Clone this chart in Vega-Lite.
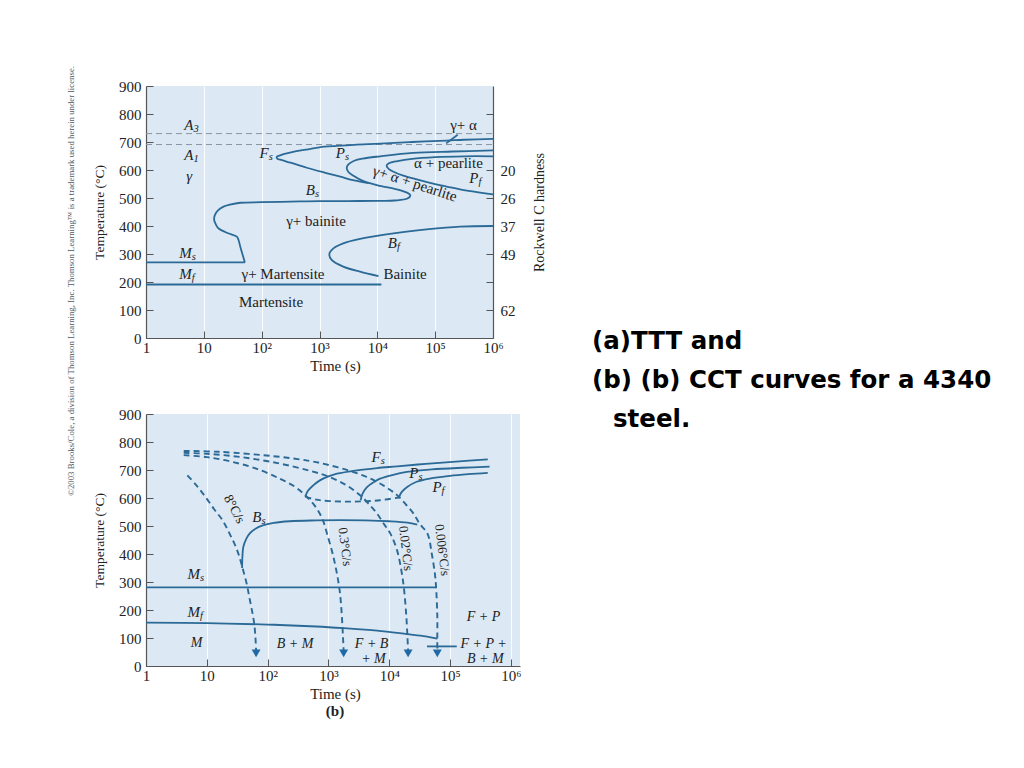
{
  "$schema": "https://vega.github.io/schema/vega-lite/v6.json",
  "autosize": "none",
  "padding": {"left": 146, "top": 86, "right": 878, "bottom": 682},
  "background": "white",
  "columns": 2,
  "bounds": "flush",
  "spacing": {"row": 76, "column": 72},
  "config": {
    "view": {"stroke": null},
    "axis": {"labelFont": "Liberation Serif", "titleFont": "Liberation Serif", "labelFontSize": 15, "titleFontSize": 15, "titleFontWeight": "normal", "labelColor": "#222222", "titleColor": "#222222", "domainColor": "#555555", "tickColor": "#555555", "domainWidth": 1.2, "tickWidth": 1, "tickSize": -7, "grid": false},
    "text": {"font": "Liberation Serif", "fontSize": 15, "color": "#222222"},
    "title": {"font": "Liberation Serif", "fontSize": 15, "fontWeight": "bold", "color": "#222222"}
  },
  "datasets": {
    "aDash": [
      {"c": "A3", "t": 1, "temp": 730}, {"c": "A3", "t": 1000000, "temp": 730},
      {"c": "A1", "t": 1, "temp": 691}, {"c": "A1", "t": 1000000, "temp": 691}
    ],
    "aSolid": [
      {"c": "Fs", "t": 1000000, "temp": 711}, {"c": "Fs", "t": 316228, "temp": 708}, {"c": "Fs", "t": 158489, "temp": 705}, {"c": "Fs", "t": 39811, "temp": 700}, {"c": "Fs", "t": 11220, "temp": 694}, {"c": "Fs", "t": 3981, "temp": 690}, {"c": "Fs", "t": 1995, "temp": 686}, {"c": "Fs", "t": 1000, "temp": 681}, {"c": "Fs", "t": 631, "temp": 674}, {"c": "Fs", "t": 398, "temp": 667}, {"c": "Fs", "t": 282, "temp": 660}, {"c": "Fs", "t": 214, "temp": 653}, {"c": "Fs", "t": 182, "temp": 647}, {"c": "Fs", "t": 186, "temp": 641}, {"c": "Fs", "t": 224, "temp": 635}, {"c": "Fs", "t": 316, "temp": 626}, {"c": "Fs", "t": 603, "temp": 608}, {"c": "Fs", "t": 1259, "temp": 590}, {"c": "Fs", "t": 2291, "temp": 576}, {"c": "Fs", "t": 3981, "temp": 563}, {"c": "Fs", "t": 7079, "temp": 553},
      {"c": "Ps", "t": 1000000, "temp": 670}, {"c": "Ps", "t": 199526, "temp": 666}, {"c": "Ps", "t": 41687, "temp": 661}, {"c": "Ps", "t": 11220, "temp": 649}, {"c": "Ps", "t": 5623, "temp": 641}, {"c": "Ps", "t": 3981, "temp": 633}, {"c": "Ps", "t": 3162, "temp": 620}, {"c": "Ps", "t": 2951, "temp": 607}, {"c": "Ps", "t": 3162, "temp": 593}, {"c": "Ps", "t": 3802, "temp": 580}, {"c": "Ps", "t": 5754, "temp": 560}, {"c": "Ps", "t": 11220, "temp": 543}, {"c": "Ps", "t": 19953, "temp": 533}, {"c": "Ps", "t": 30200, "temp": 522}, {"c": "Ps", "t": 37154, "temp": 510}, {"c": "Ps", "t": 33113, "temp": 498}, {"c": "Ps", "t": 19953, "temp": 491}, {"c": "Ps", "t": 10000, "temp": 490}, {"c": "Ps", "t": 3162, "temp": 489}, {"c": "Ps", "t": 1000, "temp": 489}, {"c": "Ps", "t": 316, "temp": 487}, {"c": "Ps", "t": 100, "temp": 485}, {"c": "Ps", "t": 42.7, "temp": 483}, {"c": "Ps", "t": 28.2, "temp": 476}, {"c": "Ps", "t": 21.9, "temp": 469}, {"c": "Ps", "t": 17.4, "temp": 455}, {"c": "Ps", "t": 15.5, "temp": 439}, {"c": "Ps", "t": 15.1, "temp": 421}, {"c": "Ps", "t": 16.2, "temp": 405}, {"c": "Ps", "t": 17.8, "temp": 392}, {"c": "Ps", "t": 26.3, "temp": 374}, {"c": "Ps", "t": 37.2, "temp": 362}, {"c": "Ps", "t": 39.8, "temp": 350}, {"c": "Ps", "t": 42.7, "temp": 326}, {"c": "Ps", "t": 51.3, "temp": 270},
      {"c": "Ms", "t": 1, "temp": 270}, {"c": "Ms", "t": 51.3, "temp": 270},
      {"c": "Mf", "t": 1, "temp": 191}, {"c": "Mf", "t": 11749, "temp": 191},
      {"c": "Pf", "t": 1000000, "temp": 649}, {"c": "Pf", "t": 316228, "temp": 649}, {"c": "Pf", "t": 100000, "temp": 646}, {"c": "Pf", "t": 39811, "temp": 640}, {"c": "Pf", "t": 22387, "temp": 632}, {"c": "Pf", "t": 15849, "temp": 624}, {"c": "Pf", "t": 14454, "temp": 615}, {"c": "Pf", "t": 15849, "temp": 603}, {"c": "Pf", "t": 19953, "temp": 592}, {"c": "Pf", "t": 28184, "temp": 580}, {"c": "Pf", "t": 44668, "temp": 568}, {"c": "Pf", "t": 81283, "temp": 554}, {"c": "Pf", "t": 158489, "temp": 541}, {"c": "Pf", "t": 269153, "temp": 531}, {"c": "Pf", "t": 1000000, "temp": 513},
      {"c": "Bf", "t": 1000000, "temp": 400}, {"c": "Bf", "t": 269153, "temp": 398}, {"c": "Bf", "t": 70795, "temp": 388}, {"c": "Bf", "t": 19055, "temp": 374}, {"c": "Bf", "t": 5012, "temp": 354}, {"c": "Bf", "t": 2570, "temp": 338}, {"c": "Bf", "t": 1738, "temp": 320}, {"c": "Bf", "t": 1479, "temp": 300}, {"c": "Bf", "t": 1622, "temp": 279}, {"c": "Bf", "t": 2570, "temp": 255}, {"c": "Bf", "t": 5012, "temp": 237}, {"c": "Bf", "t": 10471, "temp": 221},
      {"c": "lead", "t": 154882, "temp": 695}, {"c": "lead", "t": 245471, "temp": 726}
    ],
    "aText": [
      {"t": 871, "temp": 419, "label": "γ+ bainite"},
      {"t": 234, "temp": 228, "label": "γ+ Martensite"},
      {"t": 145, "temp": 127, "label": "Martensite"},
      {"t": 169824, "temp": 624, "label": "α + pearlite"},
      {"t": 30200, "temp": 228, "label": "Bainite"},
      {"t": 309030, "temp": 761, "label": "γ+ α"}
    ],
    "aRot": [
      {"t": 44668, "temp": 552, "label": "γ+ α + pearlite"}
    ],
    "aSub": [
      {"t": 6.61, "temp": 761, "m": "A", "s": "3"},
      {"t": 6.61, "temp": 654, "m": "A", "s": "1"},
      {"t": 6.31, "temp": 579, "m": "γ", "s": ""},
      {"t": 6.17, "temp": 302, "m": "M", "s": "s"},
      {"t": 6.17, "temp": 228, "m": "M", "s": "f"},
      {"t": 132, "temp": 662, "m": "F", "s": "s"},
      {"t": 2754, "temp": 660, "m": "P", "s": "s"},
      {"t": 832, "temp": 529, "m": "B", "s": "s"},
      {"t": 562341, "temp": 570, "m": "P", "s": "f"},
      {"t": 21878, "temp": 338, "m": "B", "s": "f"}
    ],
    "copy": [
      {"t": 0.0505, "temp": 204, "label": "©2003 Brooks/Cole, a division of Thomson Learning, Inc.  Thomson Learning™ is a trademark used herein under license."}
    ],
    "slide": [
      {"line": 1, "label": "(a)TTT and"},
      {"line": 2, "label": "(b) (b) CCT curves for a 4340"},
      {"line": 3, "label": "steel."}
    ],
    "bDash": [
      {"c": "r8", "t": 4.79, "temp": 681}, {"c": "r8", "t": 6.76, "temp": 645}, {"c": "r8", "t": 9.55, "temp": 603}, {"c": "r8", "t": 13.2, "temp": 560}, {"c": "r8", "t": 18.2, "temp": 520}, {"c": "r8", "t": 24.0, "temp": 470}, {"c": "r8", "t": 30.2, "temp": 424}, {"c": "r8", "t": 35.5, "temp": 380}, {"c": "r8", "t": 39.8, "temp": 340}, {"c": "r8", "t": 45.7, "temp": 290}, {"c": "r8", "t": 50.1, "temp": 245}, {"c": "r8", "t": 56.2, "temp": 190}, {"c": "r8", "t": 60.3, "temp": 150}, {"c": "r8", "t": 63.1, "temp": 100}, {"c": "r8", "t": 64.6, "temp": 55},
      {"c": "r03", "t": 4.17, "temp": 753}, {"c": "r03", "t": 10, "temp": 746}, {"c": "r03", "t": 25.1, "temp": 730}, {"c": "r03", "t": 63.1, "temp": 706}, {"c": "r03", "t": 158, "temp": 669}, {"c": "r03", "t": 282, "temp": 640}, {"c": "r03", "t": 437, "temp": 605}, {"c": "r03", "t": 631, "temp": 565}, {"c": "r03", "t": 813, "temp": 520}, {"c": "r03", "t": 955, "temp": 470}, {"c": "r03", "t": 1175, "temp": 400}, {"c": "r03", "t": 1380, "temp": 330}, {"c": "r03", "t": 1549, "temp": 260}, {"c": "r03", "t": 1660, "temp": 180}, {"c": "r03", "t": 1738, "temp": 100}, {"c": "r03", "t": 1778, "temp": 55},
      {"c": "r002", "t": 4.17, "temp": 761}, {"c": "r002", "t": 10, "temp": 758}, {"c": "r002", "t": 39.8, "temp": 745}, {"c": "r002", "t": 158, "temp": 723}, {"c": "r002", "t": 501, "temp": 697}, {"c": "r002", "t": 1047, "temp": 675}, {"c": "r002", "t": 1995, "temp": 645}, {"c": "r002", "t": 3311, "temp": 610}, {"c": "r002", "t": 5012, "temp": 570}, {"c": "r002", "t": 6310, "temp": 544}, {"c": "r002", "t": 8128, "temp": 508}, {"c": "r002", "t": 10471, "temp": 472}, {"c": "r002", "t": 13490, "temp": 412}, {"c": "r002", "t": 15849, "temp": 340}, {"c": "r002", "t": 17378, "temp": 280}, {"c": "r002", "t": 19055, "temp": 180}, {"c": "r002", "t": 19953, "temp": 100}, {"c": "r002", "t": 20417, "temp": 55},
      {"c": "r0006", "t": 4.17, "temp": 768}, {"c": "r0006", "t": 15.8, "temp": 765}, {"c": "r0006", "t": 158, "temp": 747}, {"c": "r0006", "t": 501, "temp": 732}, {"c": "r0006", "t": 1047, "temp": 717}, {"c": "r0006", "t": 2239, "temp": 697}, {"c": "r0006", "t": 4266, "temp": 675}, {"c": "r0006", "t": 7943, "temp": 645}, {"c": "r0006", "t": 13490, "temp": 610}, {"c": "r0006", "t": 19055, "temp": 575}, {"c": "r0006", "t": 25119, "temp": 544}, {"c": "r0006", "t": 31623, "temp": 508}, {"c": "r0006", "t": 42658, "temp": 472}, {"c": "r0006", "t": 50119, "temp": 400}, {"c": "r0006", "t": 56234, "temp": 330}, {"c": "r0006", "t": 58884, "temp": 281}, {"c": "r0006", "t": 61660, "temp": 180}, {"c": "r0006", "t": 61660, "temp": 100}, {"c": "r0006", "t": 61660, "temp": 55},
      {"c": "fd", "t": 417, "temp": 604}, {"c": "fd", "t": 631, "temp": 594}, {"c": "fd", "t": 1047, "temp": 589}, {"c": "fd", "t": 1995, "temp": 587}, {"c": "fd", "t": 3548, "temp": 588}, {"c": "fd", "t": 7079, "temp": 592}, {"c": "fd", "t": 14454, "temp": 602}
    ],
    "bSolid": [
      {"c": "Fs", "t": 417, "temp": 604}, {"c": "Fs", "t": 457, "temp": 625}, {"c": "Fs", "t": 562, "temp": 645}, {"c": "Fs", "t": 724, "temp": 663}, {"c": "Fs", "t": 1000, "temp": 677}, {"c": "Fs", "t": 1380, "temp": 687}, {"c": "Fs", "t": 2951, "temp": 699}, {"c": "Fs", "t": 6310, "temp": 707}, {"c": "Fs", "t": 13490, "temp": 713}, {"c": "Fs", "t": 39811, "temp": 722}, {"c": "Fs", "t": 125893, "temp": 730}, {"c": "Fs", "t": 416869, "temp": 738},
      {"c": "Ps", "t": 3388, "temp": 592}, {"c": "Ps", "t": 3631, "temp": 615}, {"c": "Ps", "t": 4266, "temp": 638}, {"c": "Ps", "t": 5623, "temp": 657}, {"c": "Ps", "t": 7079, "temp": 669}, {"c": "Ps", "t": 11220, "temp": 682}, {"c": "Ps", "t": 19498, "temp": 693}, {"c": "Ps", "t": 50119, "temp": 702}, {"c": "Ps", "t": 158489, "temp": 708}, {"c": "Ps", "t": 446684, "temp": 712},
      {"c": "Pf", "t": 14454, "temp": 602}, {"c": "Pf", "t": 15849, "temp": 620}, {"c": "Pf", "t": 19953, "temp": 640}, {"c": "Pf", "t": 28184, "temp": 658}, {"c": "Pf", "t": 47863, "temp": 670}, {"c": "Pf", "t": 100000, "temp": 679}, {"c": "Pf", "t": 199526, "temp": 685}, {"c": "Pf", "t": 416869, "temp": 690},
      {"c": "Bs", "t": 38.0, "temp": 350}, {"c": "Bs", "t": 38.5, "temp": 390}, {"c": "Bs", "t": 39.8, "temp": 425}, {"c": "Bs", "t": 44.7, "temp": 455}, {"c": "Bs", "t": 50.1, "temp": 472}, {"c": "Bs", "t": 63.1, "temp": 490}, {"c": "Bs", "t": 83.2, "temp": 502}, {"c": "Bs", "t": 126, "temp": 511}, {"c": "Bs", "t": 229, "temp": 517}, {"c": "Bs", "t": 631, "temp": 520}, {"c": "Bs", "t": 1549, "temp": 521}, {"c": "Bs", "t": 3981, "temp": 520}, {"c": "Bs", "t": 10000, "temp": 517}, {"c": "Bs", "t": 19953, "temp": 512}, {"c": "Bs", "t": 28840, "temp": 505},
      {"c": "Ms", "t": 1, "temp": 281}, {"c": "Ms", "t": 58884, "temp": 281},
      {"c": "Mf", "t": 1, "temp": 155}, {"c": "Mf", "t": 10, "temp": 153}, {"c": "Mf", "t": 100, "temp": 148}, {"c": "Mf", "t": 631, "temp": 141}, {"c": "Mf", "t": 1778, "temp": 135}, {"c": "Mf", "t": 6310, "temp": 126}, {"c": "Mf", "t": 19498, "temp": 114}, {"c": "Mf", "t": 39811, "temp": 106}, {"c": "Mf", "t": 61660, "temp": 98},
      {"c": "lead", "t": 41687, "temp": 70}, {"c": "lead", "t": 128825, "temp": 70}
    ],
    "bArrow": [
      {"t": 64.6, "temp": 45}, {"t": 1778, "temp": 45}, {"t": 20417, "temp": 45}, {"t": 61660, "temp": 45}
    ],
    "bText": [
      {"t": 6.76, "temp": 81, "label": "M"},
      {"t": 282, "temp": 77, "label": "B + M"},
      {"t": 5129, "temp": 80, "label": "F + B"},
      {"t": 5495, "temp": 26, "label": "+ M"},
      {"t": 354813, "temp": 176, "label": "F + P"},
      {"t": 354813, "temp": 80, "label": "F + P +"},
      {"t": 380189, "temp": 26, "label": "B + M"}
    ],
    "bSub": [
      {"t": 7244, "temp": 745, "m": "F", "s": "s"},
      {"t": 30200, "temp": 690, "m": "P", "s": "s"},
      {"t": 72444, "temp": 638, "m": "P", "s": "f"},
      {"t": 79.4, "temp": 533, "m": "B", "s": "s"},
      {"t": 7.76, "temp": 329, "m": "M", "s": "s"},
      {"t": 7.76, "temp": 194, "m": "M", "s": "f"}
    ],
    "bRot": [
      {"t": 28.2, "temp": 560, "label": "8°C/s"},
      {"t": 1862, "temp": 426, "label": "0.3°C/s"},
      {"t": 18621, "temp": 420, "label": "0.02°C/s"},
      {"t": 74131, "temp": 414, "label": "0.006°C/s"}
    ]
  },
  "concat": [
    {
      "width": 347,
      "height": 252,
      "view": {"fill": "#dce8f4", "stroke": null},
      "title": {"text": "(a)", "orient": "bottom", "dx": 15, "offset": 3},
      "encoding": {
        "x": {"field": "t", "type": "quantitative", "scale": {"type": "log", "domain": [1, 1000000]},
          "axis": {"values": [1, 10, 100, 1000, 10000, 100000, 1000000],
            "labelExpr": "datum.value == 1 ? '1' : datum.value == 10 ? '10' : datum.value == 100 ? '10²' : datum.value == 1000 ? '10³' : datum.value == 10000 ? '10⁴' : datum.value == 100000 ? '10⁵' : '10⁶'",
            "title": "Time (s)", "titleX": 189, "titlePadding": 3, "labelPadding": 9, "labelFlush": false, "labelOverlap": false,
            "grid": true, "gridColor": "#ffffff", "gridOpacity": 0.85, "gridWidth": 1}},
        "y": {"field": "temp", "type": "quantitative", "scale": {"domain": [0, 900]}, "axis": null}
      },
      "resolve": {"axis": {"y": "independent"}},
      "layer": [
        {"data": {"name": "aDash"},
          "mark": {"type": "line", "color": "#8a96a3", "strokeWidth": 1, "strokeDash": [6, 4]},
          "encoding": {"detail": {"field": "c"},
            "y": {"field": "temp", "type": "quantitative", "scale": {"domain": [0, 900]},
              "axis": {"orient": "right", "values": [100, 200, 300, 400, 500, 600, 800],
                "labelExpr": "datum.value == 600 ? '20' : datum.value == 500 ? '26' : datum.value == 400 ? '37' : datum.value == 300 ? '49' : datum.value == 100 ? '62' : ''",
                "labelPadding": 14, "title": "Rockwell C hardness", "titleAngle": 270, "titleBaseline": "top", "titleFontSize": 14, "titlePadding": 17}}}},
        {"data": {"name": "aSolid"},
          "mark": {"type": "line", "color": "#2b6a96", "strokeWidth": 1.8, "interpolate": "catmull-rom"},
          "encoding": {"detail": {"field": "c"}, "order": {"value": null},
            "y": {"field": "temp", "type": "quantitative", "scale": {"domain": [0, 900]},
              "axis": {"orient": "left", "values": [0, 100, 200, 300, 400, 500, 600, 700, 800, 900], "title": "Temperature (°C)", "titleFontSize": 13.5, "labelPadding": 12, "titlePadding": 12}}}},
        {"data": {"name": "aText"}, "mark": {"type": "text"}, "encoding": {"text": {"field": "label"}}},
        {"data": {"name": "aRot"}, "mark": {"type": "text", "angle": 18}, "encoding": {"text": {"field": "label"}}},
        {"data": {"name": "aSub"}, "mark": {"type": "text", "align": "right", "fontStyle": "italic"}, "encoding": {"text": {"field": "m"}}},
        {"data": {"name": "aSub"}, "mark": {"type": "text", "align": "left", "dy": 4, "fontSize": 10.5, "fontStyle": "italic"}, "encoding": {"text": {"field": "s"}}},
        {"data": {"name": "copy"}, "mark": {"type": "text", "angle": 270, "fontSize": 8.8, "color": "#555555"}, "encoding": {"text": {"field": "label"}}}
      ]
    },
    {
      "width": 300,
      "height": 252,
      "data": {"name": "slide"},
      "encoding": {
        "x": {"value": 0},
        "y": {"field": "line", "type": "quantitative", "scale": {"domain": [1, 3], "range": [263, 341]}, "axis": null},
        "text": {"field": "label"}
      },
      "layer": [
        {"transform": [{"filter": "datum.line < 3"}],
          "mark": {"type": "text", "align": "left", "baseline": "alphabetic", "font": "DejaVu Sans", "fontWeight": "bold", "fontSize": 24.5, "color": "#000000"}},
        {"transform": [{"filter": "datum.line == 3"}],
          "mark": {"type": "text", "align": "left", "baseline": "alphabetic", "dx": 21, "font": "DejaVu Sans", "fontWeight": "bold", "fontSize": 24.5, "color": "#000000"}}
      ]
    },
    {
      "width": 374,
      "height": 252,
      "view": {"fill": "#dce8f4", "stroke": null},
      "title": {"text": "(b)", "orient": "bottom", "dx": 2, "offset": 3},
      "encoding": {
        "x": {"field": "t", "type": "quantitative", "scale": {"type": "log", "domain": [1, 1412538]},
          "axis": {"values": [1, 10, 100, 1000, 10000, 100000, 1000000],
            "labelExpr": "datum.value == 1 ? '1' : datum.value == 10 ? '10' : datum.value == 100 ? '10²' : datum.value == 1000 ? '10³' : datum.value == 10000 ? '10⁴' : datum.value == 100000 ? '10⁵' : '10⁶'",
            "title": "Time (s)", "titleX": 189, "titlePadding": 3, "labelPadding": 9, "labelFlush": false, "labelOverlap": false,
            "grid": true, "gridColor": "#ffffff", "gridOpacity": 0.85, "gridWidth": 1}},
        "y": {"field": "temp", "type": "quantitative", "scale": {"domain": [0, 900]},
          "axis": {"orient": "left", "values": [0, 100, 200, 300, 400, 500, 600, 700, 800, 900], "title": "Temperature (°C)", "titleFontSize": 13.5, "labelPadding": 12, "titlePadding": 12}}
      },
      "layer": [
        {"data": {"name": "bDash"},
          "mark": {"type": "line", "color": "#2b6a96", "strokeWidth": 1.9, "strokeDash": [6, 4], "interpolate": "catmull-rom"},
          "encoding": {"detail": {"field": "c"}, "order": {"value": null}}},
        {"data": {"name": "bSolid"},
          "mark": {"type": "line", "color": "#2b6a96", "strokeWidth": 1.8, "interpolate": "catmull-rom"},
          "encoding": {"detail": {"field": "c"}, "order": {"value": null}}},
        {"data": {"name": "bArrow"},
          "mark": {"type": "point", "shape": "triangle-down", "filled": true, "size": 80, "color": "#1f6aa6", "opacity": 1},
          "encoding": {}},
        {"data": {"name": "bText"}, "mark": {"type": "text", "fontStyle": "italic", "fontSize": 14}, "encoding": {"text": {"field": "label"}}},
        {"data": {"name": "bSub"}, "mark": {"type": "text", "align": "right", "fontStyle": "italic"}, "encoding": {"text": {"field": "m"}}},
        {"data": {"name": "bSub"}, "mark": {"type": "text", "align": "left", "dy": 4, "fontSize": 10.5, "fontStyle": "italic"}, "encoding": {"text": {"field": "s"}}},
        {"data": {"name": "bRot"}, "transform": [{"filter": "datum.label == '8°C/s'"}], "mark": {"type": "text", "angle": 62, "fontSize": 13.5}, "encoding": {"text": {"field": "label"}}},
        {"data": {"name": "bRot"}, "transform": [{"filter": "datum.label != '8°C/s'"}], "mark": {"type": "text", "angle": 83, "fontSize": 13}, "encoding": {"text": {"field": "label"}}}
      ]
    }
  ]
}
